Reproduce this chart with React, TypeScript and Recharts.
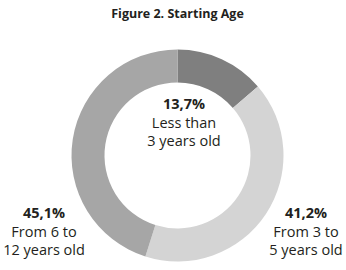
import { PieChart, Pie, Cell } from "recharts";

const categories = ["Less than 3 years old", "From 3 to 5 years old", "From 6 to 12 years old"];
const percentages = [13.7, 41.2, 45.1];
const labelLines = [
  ["Less than", "3 years old"],
  ["From 3 to", "5 years old"],
  ["From 6 to", "12 years old"],
];

const COLORS = ["#7f7f7f", "#d4d4d4", "#a6a6a6"];
// where each label block is centred (x, y of the percentage line)
const LABEL_POS = [
  { x: 184, y: 104 },
  { x: 306, y: 213 },
  { x: 44, y: 213 },
];

const data = categories.map((name, i) => ({ name, value: percentages[i] }));

const fmt = (v: number) => v.toFixed(1).replace(".", ",") + "%";

function SliceLabel(props: any) {
  const { index } = props;
  const pos = LABEL_POS[index];
  return (
    <text x={pos.x} textAnchor="middle" fill="#231f20" fontFamily="'Open Sans', sans-serif" fontSize={14.5}>
      <tspan x={pos.x} y={pos.y} dy="0.35em" fontWeight={700}>
        {fmt(percentages[index])}
      </tspan>
      {labelLines[index].map((line, k) => (
        <tspan key={k} x={pos.x} y={pos.y + 18.5 * (k + 1)} dy="0.35em">
          {line}
        </tspan>
      ))}
    </text>
  );
}

export default function App() {
  return (
    <div style={{ position: "fixed", left: 0, top: 0, width: 346, height: 270, background: "#fff" }}>
      <div
        style={{
          position: "absolute",
          left: 0,
          top: 5,
          width: 355,
          textAlign: "center",
          fontFamily: "'Open Sans', sans-serif",
          fontWeight: 700,
          fontSize: 12.5,
          color: "#231f20",
        }}
      >
        Figure 2. Starting Age
      </div>
      <PieChart width={346} height={270} margin={{ top: 0, right: 0, bottom: 0, left: 0 }}>
        <Pie
          data={data}
          dataKey="value"
          nameKey="name"
          cx={177.5}
          cy={155.5}
          innerRadius={73}
          outerRadius={106}
          startAngle={90}
          endAngle={-270}
          stroke="none"
          label={SliceLabel}
          labelLine={false}
          isAnimationActive={false}
        >
          {data.map((d, i) => (
            <Cell key={d.name} fill={COLORS[i]} />
          ))}
        </Pie>
      </PieChart>
    </div>
  );
}
